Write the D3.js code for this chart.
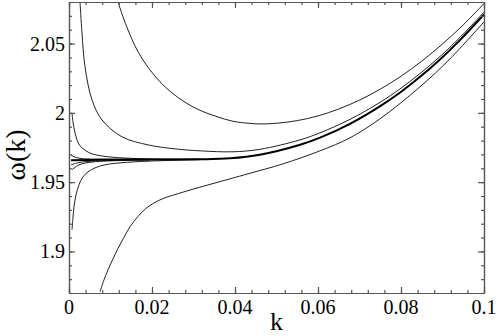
<!DOCTYPE html>
<html><head><meta charset="utf-8"><script src="https://cdn.jsdelivr.net/npm/d3@7"></script></head>
<body style="margin:0">
<script>
// tick values and labels
const kTicks = [0, 0.02, 0.04, 0.06, 0.08, 0.1];
const kTickLabels = ["0", "0.02", "0.04", "0.06", "0.08", "0.1"];
const wTicks = [1.9, 1.95, 2, 2.05];
const wTickLabels = ["1.9", "1.95", "2", "2.05"];

// curves, [k, omega]
const upper1 = [[0.01181,2.0801],[0.01301,2.0693],[0.01422,2.0599],[0.01590,2.0483],[0.01759,2.0393],
  [0.01952,2.0310],[0.02193,2.0224],[0.02482,2.0144],[0.02819,2.0072],[0.03157,2.0018],[0.03542,1.9975],
  [0.03952,1.9939],[0.04361,1.9924],[0.04602,1.9920],[0.050,1.9925],[0.055,1.9944],[0.060,1.9978],
  [0.065,2.0028],[0.070,2.0092],[0.075,2.0171],[0.080,2.0264],[0.085,2.0373],[0.090,2.0497],
  [0.095,2.0635],[0.100,2.0789]];
const upper2 = [[0.00265,2.0801],[0.00313,2.0577],[0.00386,2.0332],[0.00554,2.0094],[0.00795,1.9949],
  [0.01277,1.9827],[0.01904,1.9769],[0.02554,1.9740],[0.03157,1.9726],[0.03952,1.9719],[0.04602,1.9737],
  [0.05566,1.9805],[0.06048,1.9856],[0.06771,1.9953],[0.07494,2.0076],[0.07976,2.0173],[0.08458,2.0284],
  [0.08940,2.0407],[0.09422,2.0545],[0.1000,2.0727]];
const center = [[0.0005,1.9658],[0.0075,1.9661],[0.0195,1.9664],[0.03157,1.9665],[0.0388,1.9672],
  [0.0460,1.9698],[0.0557,1.9770],[0.0605,1.9821],[0.0677,1.9921],[0.0749,2.0047],[0.0798,2.0147],
  [0.0846,2.0260],[0.0894,2.0385],[0.0942,2.0525],[0.1000,2.0710]];
const fromTwo = [[0.00072,2.0000],[0.00096,1.9935],[0.00145,1.9856],[0.00193,1.9805],[0.00265,1.9762],
  [0.00410,1.9726],[0.00554,1.9704],[0.00867,1.9686],[0.01277,1.9675],[0.01952,1.9668],[0.03157,1.9666]];
const nearAbove = [[0.00048,1.9697],[0.0012,1.9683],[0.00265,1.9672],[0.00506,1.9667],[0.00988,1.9665],
  [0.01952,1.9664]];
const nearBelow = [[0.00048,1.9625],[0.00265,1.9643],[0.00627,1.9652],[0.01229,1.9657],[0.01952,1.9662]];
const fromBelow = [[0.00072,1.9589],[0.00145,1.9607],[0.00241,1.9625],[0.00410,1.9639],[0.00723,1.9650],
  [0.01133,1.9655],[0.01952,1.9660]];
const fromLow = [[0.00072,1.9156],[0.00096,1.9242],[0.00120,1.9322],[0.00169,1.9408],[0.00241,1.9481],
  [0.00337,1.9538],[0.00458,1.9574],[0.00627,1.9603],[0.00867,1.9625],[0.01229,1.9639],[0.01952,1.9652],
  [0.03157,1.9662]];
const lower = [[0.00747,1.8709],[0.00843,1.8795],[0.00940,1.8867],[0.01060,1.8947],[0.01181,1.9022],
  [0.01325,1.9102],[0.01470,1.9178],[0.01663,1.9253],[0.01855,1.9311],[0.02072,1.9354],[0.02313,1.9387],
  [0.02554,1.9410],[0.02916,1.9443],[0.03398,1.9484],[0.03880,1.9524],[0.04361,1.9564],[0.05157,1.9632],
  [0.06048,1.9726],[0.06771,1.9820],[0.07494,1.9957],[0.08458,2.0188],[0.09181,2.0390],[0.1000,2.0657]];

const curves = [upper1, upper2, fromTwo, nearAbove, nearBelow, fromBelow, fromLow, lower];

const margin = {top: 2, right: 14, bottom: 43, left: 69};
const width = 498 - margin.left - margin.right;
const height = 336 - margin.top - margin.bottom;

const svg = d3.select("body").append("svg")
  .attr("width", 498)
  .attr("height", 336);

const x = d3.scaleLinear().domain([0, 0.1]).range([margin.left, margin.left + width]);
const y = d3.scaleLinear().domain([1.87, 2.08]).range([margin.top + height, margin.top]);

svg.append("defs").append("clipPath").attr("id", "clip")
  .append("rect").attr("x", margin.left).attr("y", margin.top)
  .attr("width", width).attr("height", height);

const line = d3.line()
  .curve(d3.curveCatmullRom.alpha(0.5))
  .x(function(d){ return x(d[0]); })
  .y(function(d){ return y(d[1]); });

const plot = svg.append("g").attr("clip-path", "url(#clip)");

plot.selectAll(".curve")
  .data(curves).enter()
  .append("path")
    .attr("class", "curve")
    .attr("fill", "none")
    .attr("stroke", "#222")
    .attr("stroke-width", 1)
    .attr("d", line);

plot.append("path")
  .datum(center)
  .attr("fill", "none")
  .attr("stroke", "#000")
  .attr("stroke-width", 2)
  .attr("d", line);

// ticks on all four sides, no text from the axis generator
const kMinor = d3.range(0, 0.1001, 0.004);
const wMinor = d3.range(1.87, 2.0801, 0.01);

function tickAxis(axis, scale, vals, len) {
  return axis(scale).tickValues(vals).tickSizeInner(-len).tickSizeOuter(0).tickFormat("");
}
const bottomY = margin.top + height, rightX = margin.left + width;
[[kMinor, 3], [kTicks, 6]].forEach(function(p) {
  svg.append("g").attr("class", "axis").attr("transform", "translate(0," + bottomY + ")")
    .call(tickAxis(d3.axisBottom, x, p[0], p[1]));
  svg.append("g").attr("class", "axis").attr("transform", "translate(0," + margin.top + ")")
    .call(tickAxis(d3.axisTop, x, p[0], p[1]));
});
[[wMinor, 3], [wTicks, 6]].forEach(function(p) {
  svg.append("g").attr("class", "axis").attr("transform", "translate(" + margin.left + ",0)")
    .call(tickAxis(d3.axisLeft, y, p[0], p[1]));
  svg.append("g").attr("class", "axis").attr("transform", "translate(" + rightX + ",0)")
    .call(tickAxis(d3.axisRight, y, p[0], p[1]));
});
svg.selectAll(".axis path, .axis line")
  .attr("stroke", "#555")
  .attr("stroke-width", 1.2);
svg.selectAll(".axis text").remove();

// tick labels
svg.selectAll(".klabel")
  .data(kTicks).enter().append("text")
  .attr("class", "klabel")
  .attr("x", function(d){ return x(d); })
  .attr("y", bottomY + 21)
  .attr("text-anchor", "middle")
  .style("font-family", "'Liberation Serif'")
  .style("font-size", "20px")
  .text(function(d, i){ return kTickLabels[i]; });

svg.selectAll(".wlabel")
  .data(wTicks).enter().append("text")
  .attr("class", "wlabel")
  .attr("x", margin.left - 4)
  .attr("y", function(d){ return y(d) + 7; })
  .attr("text-anchor", "end")
  .style("font-family", "'Liberation Serif'")
  .style("font-size", "20px")
  .text(function(d, i){ return wTickLabels[i]; });

// axis titles
svg.append("text")
  .attr("x", margin.left + width / 2)
  .attr("y", 330)
  .attr("text-anchor", "middle")
  .style("font-family", "'Liberation Serif'")
  .style("font-size", "26px")
  .text("k");

svg.append("text")
  .attr("transform", "translate(25,155) rotate(-90)")
  .attr("text-anchor", "middle")
  .style("font-family", "'Liberation Serif'")
  .style("font-size", "28px")
  .text("ω(k)");
</script>
</body>
</html>
